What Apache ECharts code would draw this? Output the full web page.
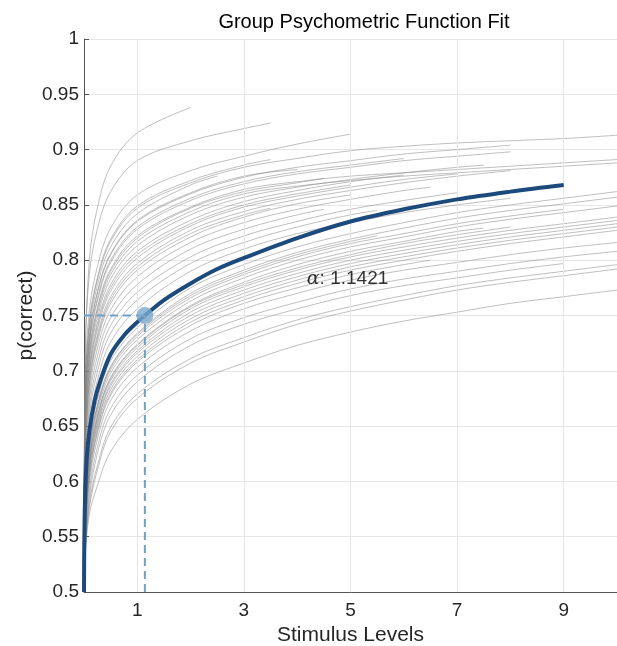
<!DOCTYPE html>
<html>
<head>
<meta charset="utf-8">
<title>Group Psychometric Function Fit</title>
<script src="https://cdn.jsdelivr.net/npm/echarts@6.0.0/dist/echarts.min.js"></script>
<style>
  html, body { margin: 0; padding: 0; background: #fff; }
  #chart { width: 617px; height: 646px; }
</style>
</head>
<body>
<div id="chart"></div>
<script>
const stimX = [0, 0.02, 0.1, 0.25, 0.5, 1, 2, 3, 4, 5, 6, 7, 8, 9, 10];

// where each individual fit stops on the x axis
const grayEnds = [
  2, 3.5, 5, 3.5, 10, 4, 2.5, 8, 8, 10, 10, 7.5, 6, 7, 8, 5, 6.5, 4.5, 7, 5.5, 8, 6, 4.5, 5, 3.5,
  10, 10, 9, 10, 7.5, 10, 10, 10, 10, 10, 6.5, 10, 10, 9, 10, 10, 10, 5.5, 8
];

// p(correct) of each individual fit at stimX below its end, last entry is the value at the end
const grayFits = [
  [0.5, 0.70, 0.80, 0.847, 0.885, 0.915, 0.938],
  [0.5, 0.71, 0.787, 0.828, 0.862, 0.89, 0.908, 0.919, 0.924],
  [0.5, 0.69, 0.754, 0.794, 0.829, 0.859, 0.881, 0.894, 0.905, 0.914],
  [0.5, 0.68, 0.744, 0.784, 0.819, 0.849, 0.872, 0.886, 0.891],
  [0.5, 0.677, 0.742, 0.782, 0.817, 0.847, 0.870, 0.884, 0.892, 0.899, 0.903, 0.906, 0.908, 0.910, 0.913],
  [0.5, 0.666, 0.731, 0.771, 0.806, 0.836, 0.861, 0.876, 0.882],
  [0.5, 0.672, 0.737, 0.777, 0.812, 0.842, 0.868, 0.876],
  [0.5, 0.665, 0.73, 0.77, 0.805, 0.835, 0.86, 0.875, 0.884, 0.89, 0.896, 0.9, 0.904],
  [0.5, 0.658, 0.723, 0.763, 0.798, 0.828, 0.854, 0.869, 0.878, 0.884, 0.89, 0.894, 0.898],
  [0.5, 0.652, 0.717, 0.757, 0.792, 0.822, 0.848, 0.864, 0.871, 0.876, 0.879, 0.882, 0.885, 0.888, 0.891],
  [0.5, 0.647, 0.712, 0.752, 0.787, 0.817, 0.844, 0.86, 0.867, 0.872, 0.876, 0.879, 0.882, 0.885, 0.888],
  [0.5, 0.643, 0.708, 0.748, 0.783, 0.813, 0.841, 0.857, 0.866, 0.873, 0.879, 0.884, 0.886],
  [0.5, 0.638, 0.703, 0.743, 0.778, 0.808, 0.836, 0.853, 0.863, 0.871, 0.877],
  [0.5, 0.632, 0.697, 0.737, 0.772, 0.802, 0.831, 0.848, 0.858, 0.866, 0.873, 0.878],
  [0.5, 0.627, 0.692, 0.732, 0.767, 0.797, 0.827, 0.844, 0.855, 0.863, 0.87, 0.876, 0.881],
  [0.5, 0.621, 0.686, 0.726, 0.761, 0.791, 0.821, 0.839, 0.851, 0.859],
  [0.5, 0.615, 0.68, 0.72, 0.755, 0.785, 0.816, 0.834, 0.846, 0.855, 0.863, 0.866],
  [0.5, 0.608, 0.673, 0.713, 0.748, 0.778, 0.81, 0.828, 0.841, 0.846],
  [0.5, 0.601, 0.666, 0.706, 0.741, 0.771, 0.803, 0.822, 0.835, 0.846, 0.854, 0.861],
  [0.5, 0.594, 0.659, 0.699, 0.734, 0.764, 0.797, 0.816, 0.83, 0.841, 0.845],
  [0.5, 0.586, 0.651, 0.691, 0.726, 0.756, 0.79, 0.81, 0.824, 0.834, 0.843, 0.85, 0.856],
  [0.5, 0.66, 0.725, 0.765, 0.8, 0.83, 0.856, 0.871, 0.88, 0.886, 0.892],
  [0.5, 0.65, 0.715, 0.755, 0.79, 0.82, 0.847, 0.862, 0.87, 0.874],
  [0.5, 0.635, 0.70, 0.74, 0.775, 0.805, 0.833, 0.85, 0.86, 0.868],
  [0.5, 0.624, 0.689, 0.729, 0.764, 0.794, 0.824, 0.841, 0.847],
  [0.5, 0.569, 0.634, 0.674, 0.709, 0.739, 0.775, 0.796, 0.812, 0.824, 0.834, 0.843, 0.85, 0.856, 0.862],
  [0.5, 0.564, 0.629, 0.669, 0.704, 0.734, 0.77, 0.791, 0.807, 0.819, 0.829, 0.838, 0.845, 0.851, 0.857],
  [0.5, 0.561, 0.626, 0.666, 0.701, 0.731, 0.766, 0.787, 0.803, 0.815, 0.824, 0.833, 0.84, 0.846],
  [0.5, 0.558, 0.623, 0.663, 0.698, 0.728, 0.763, 0.784, 0.8, 0.812, 0.821, 0.83, 0.837, 0.843, 0.849],
  [0.5, 0.556, 0.619, 0.659, 0.694, 0.724, 0.759, 0.78, 0.796, 0.808, 0.817, 0.826, 0.829],
  [0.5, 0.553, 0.616, 0.656, 0.691, 0.721, 0.756, 0.776, 0.791, 0.803, 0.812, 0.82, 0.827, 0.833, 0.839],
  [0.5, 0.551, 0.613, 0.653, 0.688, 0.718, 0.753, 0.773, 0.788, 0.80, 0.809, 0.817, 0.824, 0.83, 0.836],
  [0.5, 0.55, 0.611, 0.651, 0.686, 0.716, 0.75, 0.77, 0.785, 0.797, 0.806, 0.814, 0.821, 0.827, 0.833],
  [0.5, 0.548, 0.608, 0.648, 0.683, 0.713, 0.747, 0.767, 0.782, 0.794, 0.803, 0.811, 0.818, 0.824, 0.83],
  [0.5, 0.546, 0.605, 0.645, 0.68, 0.71, 0.744, 0.764, 0.779, 0.791, 0.80, 0.808, 0.815, 0.821, 0.827],
  [0.5, 0.545, 0.603, 0.643, 0.678, 0.708, 0.741, 0.761, 0.775, 0.787, 0.796, 0.80],
  [0.5, 0.543, 0.598, 0.638, 0.673, 0.703, 0.736, 0.756, 0.77, 0.782, 0.791, 0.798, 0.805, 0.811, 0.816],
  [0.5, 0.54, 0.591, 0.631, 0.666, 0.696, 0.729, 0.748, 0.762, 0.774, 0.783, 0.79, 0.797, 0.803, 0.808],
  [0.5, 0.538, 0.585, 0.625, 0.66, 0.69, 0.723, 0.742, 0.756, 0.768, 0.777, 0.784, 0.791, 0.797],
  [0.5, 0.536, 0.58, 0.614, 0.649, 0.679, 0.711, 0.73, 0.746, 0.758, 0.768, 0.777, 0.784, 0.79, 0.796],
  [0.5, 0.535, 0.576, 0.61, 0.645, 0.675, 0.707, 0.726, 0.742, 0.754, 0.764, 0.773, 0.78, 0.786, 0.792],
  [0.5, 0.53, 0.57, 0.596, 0.627, 0.656, 0.688, 0.707, 0.723, 0.735, 0.745, 0.753, 0.761, 0.767, 0.773],
  [0.5, 0.563, 0.628, 0.668, 0.703, 0.733, 0.768, 0.789, 0.805, 0.817, 0.822],
  [0.5, 0.555, 0.618, 0.658, 0.693, 0.723, 0.758, 0.778, 0.793, 0.805, 0.815, 0.823, 0.83]
];

// group fit (thick blue line)
const groupX = [0, 0.005, 0.02, 0.05, 0.1, 0.2, 0.3, 0.5, 0.75, 1, 1.1421, 1.5, 2, 2.5, 3, 4, 5, 6, 7, 8, 9];
const groupY = [0.5, 0.54, 0.585, 0.62, 0.645, 0.673, 0.69, 0.715, 0.732, 0.744, 0.75, 0.764, 0.779, 0.792, 0.802, 0.82, 0.835, 0.846, 0.855, 0.862, 0.868];

// threshold
const alphaValue = 1.1421;
const alphaP = 0.75;
const alphaLabelAt = [4.18, 0.783];

const xTicks = [1, 3, 5, 7, 9];

const chart = echarts.init(document.getElementById('chart'));
const font = '"Liberation Sans", Helvetica, Arial, sans-serif';

const series = [];

// vertical grid only at the labelled stimulus levels
series.push({
  type: 'line',
  data: [],
  silent: true,
  z: 1,
  markLine: {
    silent: true,
    symbol: 'none',
    label: { show: false },
    lineStyle: { color: '#e6e6e6', width: 1, type: 'solid' },
    data: xTicks.map(v => ({ xAxis: v }))
  }
});

grayFits.forEach((row, i) => {
  const end = grayEnds[i];
  const xs = stimX.filter(x => x < end);
  const pts = xs.map((x, k) => [x, row[k]]);
  pts.push([end, row[xs.length]]);
  series.push({
    type: 'line',
    data: pts,
    smooth: 0.35,
    showSymbol: false,
    symbol: 'none',
    silent: true,
    z: 2,
    lineStyle: { color: '#858585', width: 0.7, opacity: 0.75 }
  });
});

series.push({
  type: 'line',
  data: groupX.map((x, i) => [x, groupY[i]]),
  smooth: 0.35,
  showSymbol: false,
  symbol: 'none',
  z: 5,
  lineStyle: { color: '#1c4a7c', width: 4 }
});

// dashed guides to the threshold point
series.push({
  type: 'line',
  data: [[0, alphaP], [alphaValue, alphaP]],
  showSymbol: false,
  symbol: 'none',
  z: 6,
  lineStyle: { color: '#6fa2ca', width: 2, type: [8, 5] }
});
series.push({
  type: 'line',
  data: [[alphaValue, 0.5], [alphaValue, alphaP]],
  showSymbol: false,
  symbol: 'none',
  z: 6,
  lineStyle: { color: '#6fa2ca', width: 2, type: [8, 5] }
});

series.push({
  type: 'scatter',
  data: [[alphaValue, alphaP]],
  symbolSize: 17,
  z: 7,
  itemStyle: { color: '#7aa9cc' }
});

series.push({
  type: 'scatter',
  data: [alphaLabelAt],
  symbolSize: 0,
  z: 8,
  label: {
    show: true,
    position: 'right',
    distance: 0,
    formatter: '{a|α}: ' + alphaValue,
    color: '#000',
    fontSize: 19,
    fontFamily: font,
    rich: {
      a: { fontFamily: '"DejaVu Serif", serif', fontStyle: 'italic', fontSize: 19, color: '#000' }
    }
  }
});

chart.setOption({
  animation: false,
  backgroundColor: '#fff',
  grid: { left: 84, right: 0, top: 39, bottom: 54, outerBoundsMode: 'none' },
  graphic: [{
    type: 'text',
    x: 364,
    y: 22,
    style: {
      text: 'Group Psychometric Function Fit',
      fill: '#000',
      font: '20px ' + font,
      textAlign: 'center',
      textVerticalAlign: 'middle'
    }
  }],
  xAxis: {
    type: 'value',
    min: 0,
    max: 10,
    name: 'Stimulus Levels',
    nameLocation: 'middle',
    nameGap: 33,
    nameMoveOverlap: false,
    nameTextStyle: { fontSize: 21, color: '#262626', fontFamily: font },
    axisLine: { show: true, lineStyle: { color: '#555', width: 1 } },
    axisTick: { show: true, inside: true, length: 5, customValues: xTicks, lineStyle: { color: '#555' } },
    axisLabel: { customValues: xTicks, fontSize: 19, color: '#262626', fontFamily: font, margin: 9 },
    splitLine: { show: false }
  },
  yAxis: {
    type: 'value',
    min: 0.5,
    max: 1,
    interval: 0.05,
    name: 'p(correct)',
    nameLocation: 'middle',
    nameGap: 47,
    nameMoveOverlap: false,
    nameRotate: 90,
    nameTextStyle: { fontSize: 21, color: '#262626', fontFamily: font },
    axisLine: { show: true, lineStyle: { color: '#555', width: 1 } },
    axisTick: { show: true, inside: true, length: 5, lineStyle: { color: '#555' } },
    axisLabel: { fontSize: 19, color: '#262626', fontFamily: font, margin: 5 },
    splitLine: { show: true, lineStyle: { color: '#e6e6e6', width: 1 } }
  },
  series: series
});
</script>
</body>
</html>
